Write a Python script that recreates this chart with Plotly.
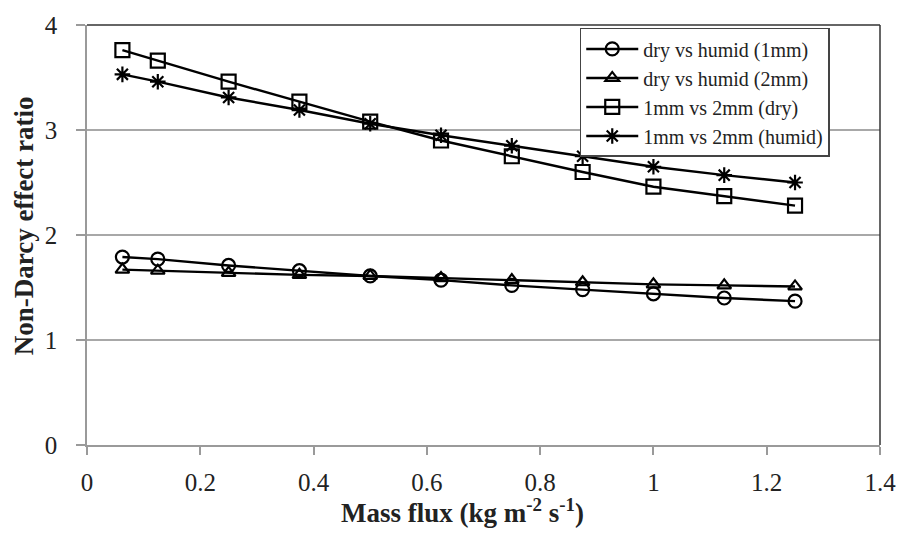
import plotly.graph_objects as go

mass_flux = [0.0625, 0.125, 0.25, 0.375, 0.5, 0.625, 0.75, 0.875, 1.0, 1.125, 1.25]
dry_humid_1mm = [1.79, 1.77, 1.71, 1.66, 1.61, 1.57, 1.52, 1.48, 1.44, 1.40, 1.37]
dry_humid_2mm = [1.67, 1.66, 1.64, 1.62, 1.61, 1.59, 1.57, 1.55, 1.53, 1.52, 1.51]
mm_dry = [3.76, 3.66, 3.46, 3.27, 3.08, 2.90, 2.75, 2.60, 2.46, 2.37, 2.28]
mm_humid = [3.53, 3.46, 3.31, 3.19, 3.06, 2.95, 2.85, 2.75, 2.65, 2.57, 2.50]

names = ["dry vs humid (1mm)", "dry vs humid (2mm)", "1mm vs 2mm (dry)", "1mm vs 2mm (humid)"]
series = [dry_humid_1mm, dry_humid_2mm, mm_dry, mm_humid]
symbols = ["circle-open", "triangle-up-open", "square-open", "asterisk-open"]
sizes = [13, 12, 14, 13]

x_ticks = [0, 0.2, 0.4, 0.6, 0.8, 1, 1.2, 1.4]
y_ticks = [0, 1, 2, 3, 4]

serif = "Liberation Serif, Times New Roman, serif"

fig = go.Figure()
for name, vals, sym, sz in zip(names, series, symbols, sizes):
    fig.add_trace(go.Scatter(
        x=mass_flux, y=vals, name=name, mode="lines+markers",
        line=dict(color="black", width=2.4),
        marker=dict(symbol=sym, size=sz, color="black", line=dict(color="black", width=2.2)),
    ))

fig.update_layout(
    width=908, height=535,
    margin=dict(l=87, r=20, t=20, b=90),
    paper_bgcolor="white", plot_bgcolor="white",
    font=dict(family=serif, color="black"),
    showlegend=True,
    legend=dict(
        x=0.779, y=0.993, xanchor="center", yanchor="top",
        bgcolor="white", bordercolor="#444", borderwidth=1.5,
        font=dict(family=serif, size=20, color="#222"),
        tracegroupgap=0, itemwidth=52,
    ),
    xaxis=dict(
        range=[0, 1.4], tickvals=x_ticks, ticktext=[str(v) for v in x_ticks],
        showgrid=False, zeroline=False,
        showline=True, linecolor="#9a9a9a", linewidth=1.5,
        ticks="outside", ticklen=8, tickcolor="#9a9a9a", tickwidth=1.5,
        tickfont=dict(family=serif, size=25, color="#222"),
        ticklabelstandoff=6,
    ),
    yaxis=dict(
        range=[0, 4], tickvals=y_ticks,
        showgrid=True, gridcolor="#a8a8a8", gridwidth=1.5, zeroline=False,
        showline=True, linecolor="#9a9a9a", linewidth=1.5,
        ticks="outside", ticklen=9, tickcolor="#9a9a9a", tickwidth=1.5,
        tickfont=dict(family=serif, size=25, color="#222"),
        ticklabelstandoff=14,
    ),
    annotations=[
        dict(text="<b>Mass flux (kg m<sup>-2</sup> s<sup>-1</sup>)</b>", xref="paper", yref="paper",
             x=0.474, y=-0.158, xanchor="center", yanchor="middle", showarrow=False,
             font=dict(family=serif, size=27, color="#222")),
        dict(text="<b>Non-Darcy effect ratio</b>", xref="paper", yref="paper",
             x=-0.08, y=0.522, xanchor="center", yanchor="middle", showarrow=False, textangle=-90,
             font=dict(family=serif, size=27, color="#222")),
    ],
    shapes=[
        dict(type="line", xref="paper", yref="paper", x0=0, x1=1, y0=1, y1=1,
             line=dict(color="#333", width=1.5), layer="above"),
        dict(type="line", xref="paper", yref="paper", x0=1, x1=1, y0=0, y1=1,
             line=dict(color="#333", width=1.5), layer="above"),
    ],
)

fig.write_html("out.html")
